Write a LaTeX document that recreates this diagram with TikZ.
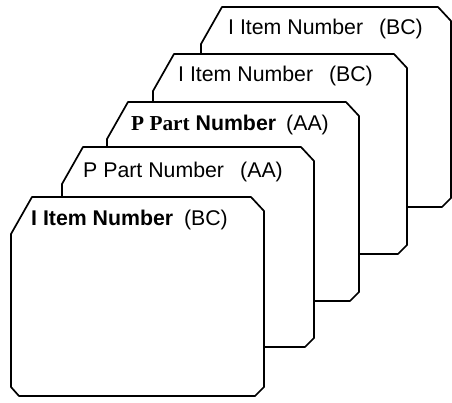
\documentclass[tikz,border=0pt]{standalone}
\usepackage{fontspec}
\setmainfont{Liberation Sans}
\setsansfont{Liberation Sans}
\newfontfamily\cardserif{Liberation Serif}
\tikzset{
  cardline/.style={draw=black, fill=white, line width=1.7pt, line join=round},
  cardtext/.style={inner sep=0pt, font=\fontsize{21.3}{25}\selectfont},
}
\newcommand{\cardoutline}[4]{%
  \filldraw[cardline] (#1,#2+37) -- (#1+21,#2) -- (#3-13,#2) -- (#3,#2+14)
    -- (#3,#4-9) -- (#3-9,#4) -- (#1+8,#4) -- (#1,#4-9) -- cycle;}
\begin{document}
\begin{tikzpicture}[x=1pt,y=-1pt]
\useasboundingbox (0,0) rectangle (452,403);
% card 1 (back)
\cardoutline{201}{7}{451}{207}
\node[cardtext, anchor=base west] (c1name) at (228,35) {I Item Number};
\node[cardtext, anchor=base east] (c1code) at (423,35) {(BC)};
% card 2
\cardoutline{153}{54}{407}{254}
\node[cardtext, anchor=base west] (c2name) at (178,82) {I Item Number};
\node[cardtext, anchor=base east] (c2code) at (373,82) {(BC)};
% card 3
\cardoutline{107}{102}{359}{301}
\node[cardtext, anchor=base west] (c3name) at (131,131) {{\cardserif\bfseries P Part} \bfseries Number};
\node[cardtext, anchor=base east] (c3code) at (329,131) {(AA)};
% card 4
\cardoutline{62}{147}{314}{347}
\node[cardtext, anchor=base west] (c4name) at (83,178) {P Part Number};
\node[cardtext, anchor=base east] (c4code) at (283,178) {(AA)};
% card 5 (front)
\cardoutline{11}{197}{264}{396}
\node[cardtext, anchor=base west] (c5name) at (31,226) {\bfseries I Item Number};
\node[cardtext, anchor=base east] (c5code) at (228,226) {(BC)};
\end{tikzpicture}
\end{document}
